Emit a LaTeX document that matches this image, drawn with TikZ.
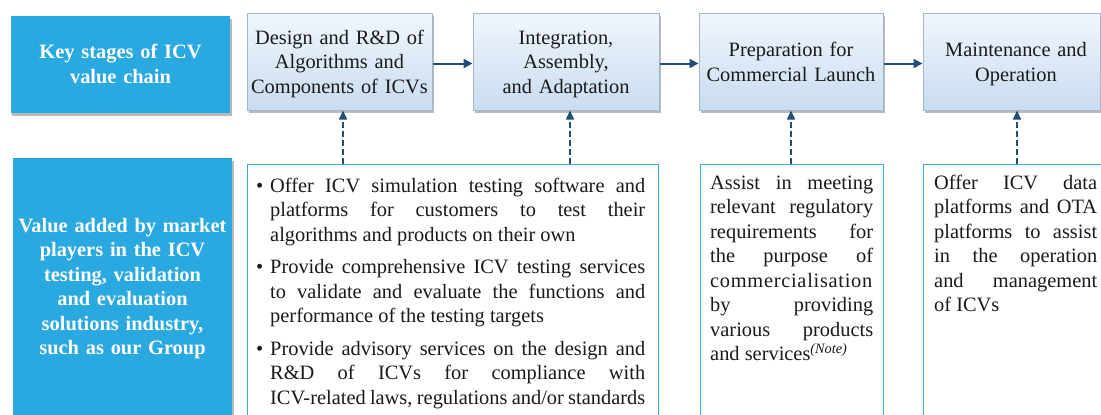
\documentclass[tikz,border=0pt]{standalone}
\usepackage{fontspec}
\setmainfont{Liberation Serif}
\usetikzlibrary{shadows,arrows.meta,calc}
\definecolor{headblue}{HTML}{2AA8E0}
\definecolor{lowblue}{HTML}{3FAAE0}
\definecolor{stagetop}{HTML}{F1F6FC}
\definecolor{stagebot}{HTML}{C9DCF0}
\definecolor{stageedge}{HTML}{A3B6CA}
\definecolor{arrowcol}{HTML}{1F4E79}
\definecolor{txtcol}{HTML}{1A1A1A}
\newcommand\mainfs{\fontsize{20.4bp}{24.5bp}\selectfont}
\newcommand\bitem[1]{\noindent\hangindent=14bp\hangafter=1\makebox[14bp][l]{\textbullet}#1\par}
\begin{document}
\begin{tikzpicture}[x=1bp,y=-1bp,
  myshadow/.style={drop shadow={shadow xshift=1.5bp,shadow yshift=-2.5bp,fill=black!45,opacity=.6}},
  headbox/.style={fill=headblue,draw=none,myshadow,inner sep=0},
  headtext/.style={inner sep=0,text=white,font=\mainfs\bfseries,align=center,
    execute at begin node=\strut,execute at end node=\strut},
  stagebox/.style={draw=stageedge,line width=1bp,top color=stagetop,bottom color=stagebot,
    myshadow,inner sep=0,minimum height=97bp},
  stagetext/.style={inner sep=0,text=txtcol,font=\mainfs,align=center,text width=182bp,
    execute at begin node=\strut,execute at end node=\strut},
  lowbox/.style={draw=lowblue,line width=1.2bp,fill=white,inner sep=0,anchor=north west},
  bodytext/.style={inner sep=0,anchor=north west,text=txtcol,font=\mainfs,align=justify,
    execute at begin node=\strut},
  flow/.style={draw=arrowcol,line width=2bp,-{Triangle[length=9bp,width=9bp]}},
  link/.style={draw=arrowcol,line width=1.5bp,dash pattern=on 6bp off 3bp,
    -{Triangle[length=9bp,width=8bp]}},
]
\useasboundingbox (0,0) rectangle (1101,414);
\clip (0,0) rectangle (1101,414);

% left headings
\node[headbox,minimum width=219bp,minimum height=97bp] (h1) at (120.5,64.5) {};
\node[headtext,text width=215bp] (h1t) at ([yshift=-1.5bp]h1.center) {Key stages of ICV\\value chain};
\node[headbox,minimum width=219bp,minimum height=272bp] (h2) at (122.5,294) {};
\node[headtext,text width=215bp,anchor=north] (h2t) at (122.5,214.85)
  {Value added by market\\players in the ICV\\testing, validation\\and evaluation\\solutions industry,\\such as our Group};

% stage boxes
\node[stagebox,minimum width=185bp] (s1) at (339.5,61.5) {};
\node[stagetext] (s1t) at ([yshift=-2.5bp]s1.center) {Design and R\&D of\\Algorithms and\\Components of ICVs};
\node[stagebox,minimum width=186bp] (s2) at (566,61.5) {};
\node[stagetext] (s2t) at ([yshift=-2.5bp]s2.center) {Integration,\\Assembly,\\and Adaptation};
\node[stagebox,minimum width=184bp] (s3) at (791,61.5) {};
\node[stagetext] (s3t) at ([yshift=-2.5bp]s3.center) {Preparation for\\Commercial Launch};
\node[stagebox,minimum width=177bp] (s4) at (1011.5,61.5) {};
\node[stagetext] (s4t) at (1016,64) {Maintenance and\\Operation};

\draw[flow] ([yshift=-2bp]s1.east) -- ([yshift=-2bp]s2.west);
\draw[flow] ([yshift=-2bp]s2.east) -- ([yshift=-2bp]s3.west);
\draw[flow] ([yshift=-2bp]s3.east) -- ([yshift=-2bp]s4.west);

% lower boxes
\node[lowbox,minimum width=411bp,minimum height=270bp] (la) at (247,164) {};
\node[lowbox,minimum width=183bp,minimum height=270bp] (lb) at (700,164) {};
\node[lowbox,minimum width=183bp,minimum height=270bp] (lc) at (923,164) {};

\node[bodytext,text width=389bp] (lat) at (256,174.85) {%
\bitem{Offer ICV simulation testing software and\linebreak platforms for customers to test their\linebreak algorithms and products on their own}
\vspace{8bp}
\bitem{Provide comprehensive ICV testing services\linebreak to validate and evaluate the functions and\linebreak performance of the testing targets}
\vspace{8bp}
\bitem{Provide advisory services on the design and\linebreak R\&D of ICVs for compliance with\linebreak ICV-related laws, regulations and/or standards}};

\node[bodytext,text width=163bp] (lbt) at (710,171.85) {%
Assist in meeting\linebreak relevant regulatory\linebreak requirements for\linebreak the purpose of\linebreak
{\addfontfeature{LetterSpace=3.5}commercialisation}\linebreak by providing\linebreak various products\linebreak and services\textsuperscript{\textit{(Note)}}};

\node[bodytext,text width=163bp] (lct) at (934,171.85) {%
Offer ICV data\linebreak platforms and OTA\linebreak platforms to assist\linebreak in the operation\linebreak and management\linebreak of ICVs};

% dashed links
\coordinate (d1) at (343,0);
\coordinate (d2) at (570,0);
\coordinate (d3) at (791,0);
\coordinate (d4) at (1017,0);
\draw[link] (d1 |- la.north) -- (d1 |- s1.south);
\draw[link] (d2 |- la.north) -- (d2 |- s2.south);
\draw[link] (d3 |- lb.north) -- (d3 |- s3.south);
\draw[link] (d4 |- lc.north) -- (d4 |- s4.south);
\end{tikzpicture}
\end{document}
